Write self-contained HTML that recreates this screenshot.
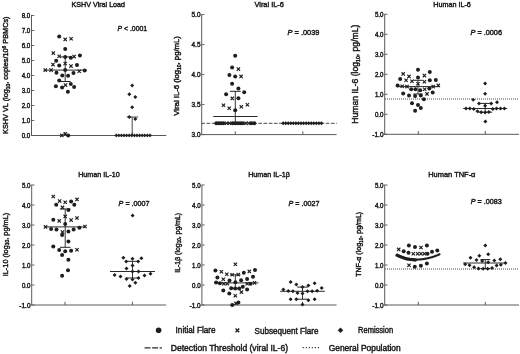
<!DOCTYPE html>
<html><head><meta charset="utf-8"><title>Figure</title>
<style>
html,body{margin:0;padding:0;background:#fff;}
body{width:520px;height:354px;overflow:hidden;}
svg{display:block;}
#w{will-change:transform;width:520px;height:354px;}
text{font-family:"Liberation Sans", sans-serif;fill:#1a1a1a;stroke:#1a1a1a;stroke-width:0.45px;}
</style></head>
<body>
<div id="w"><svg width="520" height="354" viewBox="0 0 520 354">
<rect width="520" height="354" fill="#fff"/>
<line x1="31.50" y1="14.90" x2="31.50" y2="135.95" stroke="#5a5a5a" stroke-width="1.0" />
<line x1="31.00" y1="135.50" x2="166.30" y2="135.50" stroke="#5a5a5a" stroke-width="1.0" />
<line x1="31.50" y1="135.50" x2="34.30" y2="135.50" stroke="#5a5a5a" stroke-width="0.9" />
<text x="30.3" y="138.05" font-size="7.1" text-anchor="end" textLength="8.6" lengthAdjust="spacingAndGlyphs" >0.0</text>
<line x1="31.50" y1="120.50" x2="34.30" y2="120.50" stroke="#5a5a5a" stroke-width="0.9" />
<text x="30.3" y="123.05" font-size="7.1" text-anchor="end" textLength="8.6" lengthAdjust="spacingAndGlyphs" >1.0</text>
<line x1="31.50" y1="105.50" x2="34.30" y2="105.50" stroke="#5a5a5a" stroke-width="0.9" />
<text x="30.3" y="108.05" font-size="7.1" text-anchor="end" textLength="8.6" lengthAdjust="spacingAndGlyphs" >2.0</text>
<line x1="31.50" y1="90.50" x2="34.30" y2="90.50" stroke="#5a5a5a" stroke-width="0.9" />
<text x="30.3" y="93.05" font-size="7.1" text-anchor="end" textLength="8.6" lengthAdjust="spacingAndGlyphs" >3.0</text>
<line x1="31.50" y1="75.50" x2="34.30" y2="75.50" stroke="#5a5a5a" stroke-width="0.9" />
<text x="30.3" y="78.05" font-size="7.1" text-anchor="end" textLength="8.6" lengthAdjust="spacingAndGlyphs" >4.0</text>
<line x1="31.50" y1="60.50" x2="34.30" y2="60.50" stroke="#5a5a5a" stroke-width="0.9" />
<text x="30.3" y="63.05" font-size="7.1" text-anchor="end" textLength="8.6" lengthAdjust="spacingAndGlyphs" >5.0</text>
<line x1="31.50" y1="45.50" x2="34.30" y2="45.50" stroke="#5a5a5a" stroke-width="0.9" />
<text x="30.3" y="48.05" font-size="7.1" text-anchor="end" textLength="8.6" lengthAdjust="spacingAndGlyphs" >6.0</text>
<line x1="31.50" y1="30.50" x2="34.30" y2="30.50" stroke="#5a5a5a" stroke-width="0.9" />
<text x="30.3" y="33.05" font-size="7.1" text-anchor="end" textLength="8.6" lengthAdjust="spacingAndGlyphs" >7.0</text>
<line x1="31.50" y1="15.50" x2="34.30" y2="15.50" stroke="#5a5a5a" stroke-width="0.9" />
<text x="30.3" y="18.05" font-size="7.1" text-anchor="end" textLength="8.6" lengthAdjust="spacingAndGlyphs" >8.0</text>
<line x1="65.00" y1="132.30" x2="65.00" y2="135.50" stroke="#5a5a5a" stroke-width="1.0" />
<line x1="132.30" y1="132.30" x2="132.30" y2="135.50" stroke="#5a5a5a" stroke-width="1.0" />
<text x="98.3" y="7.4" font-size="7.6" text-anchor="middle" textLength="53.5" lengthAdjust="spacingAndGlyphs" >KSHV Viral Load</text>
<text x="117.6" y="30.8" font-size="7.8" text-anchor="start" textLength="29.5" lengthAdjust="spacingAndGlyphs" ><tspan font-style="italic">P</tspan> &lt; .0001</text>
<text transform="translate(8.1,75.2) rotate(-90)" x="0" y="0" font-size="7.8" text-anchor="middle" textLength="117.5" lengthAdjust="spacingAndGlyphs">KSHV VL (log<tspan font-size="5.2" dy="1.6">10</tspan><tspan dy="-1.6">,</tspan> copies/10<tspan font-size="5.2" dy="-2.6">6</tspan><tspan dy="2.6"> PBMCs)</tspan></text>
<line x1="65.20" y1="56.90" x2="65.20" y2="81.50" stroke="#2a2a2a" stroke-width="0.95" />
<line x1="59.90" y1="56.90" x2="70.50" y2="56.90" stroke="#222" stroke-width="1.0" />
<line x1="59.90" y1="81.50" x2="70.50" y2="81.50" stroke="#222" stroke-width="1.0" />
<line x1="43.70" y1="70.10" x2="86.70" y2="70.10" stroke="#2a2a2a" stroke-width="1.0" />
<circle cx="59.2" cy="36.5" r="2.0" fill="#1e1e1e"/>
<circle cx="65.2" cy="48.9" r="2.0" fill="#1e1e1e"/>
<circle cx="65.2" cy="56.9" r="2.0" fill="#1e1e1e"/>
<circle cx="70.8" cy="57.7" r="2.0" fill="#1e1e1e"/>
<circle cx="79.9" cy="55.5" r="2.0" fill="#1e1e1e"/>
<circle cx="56.2" cy="60.8" r="2.0" fill="#1e1e1e"/>
<circle cx="59.2" cy="65.6" r="2.0" fill="#1e1e1e"/>
<circle cx="77.0" cy="65.1" r="2.0" fill="#1e1e1e"/>
<circle cx="65.2" cy="69.9" r="2.0" fill="#1e1e1e"/>
<circle cx="84.7" cy="70.4" r="2.0" fill="#1e1e1e"/>
<circle cx="56.5" cy="72.8" r="2.0" fill="#1e1e1e"/>
<circle cx="73.5" cy="73.1" r="2.0" fill="#1e1e1e"/>
<circle cx="62.3" cy="75.4" r="2.0" fill="#1e1e1e"/>
<circle cx="68.1" cy="75.7" r="2.0" fill="#1e1e1e"/>
<circle cx="59.2" cy="80.6" r="2.0" fill="#1e1e1e"/>
<circle cx="55.9" cy="86.3" r="2.0" fill="#1e1e1e"/>
<circle cx="62.1" cy="87.5" r="2.0" fill="#1e1e1e"/>
<circle cx="70.8" cy="84.1" r="2.0" fill="#1e1e1e"/>
<circle cx="74.1" cy="87.0" r="2.0" fill="#1e1e1e"/>
<circle cx="67.9" cy="91.8" r="2.0" fill="#1e1e1e"/>
<circle cx="68.2" cy="135.4" r="2.0" fill="#1e1e1e"/>
<path d="M63.55 37.75L66.85 41.05M63.55 41.05L66.85 37.75" stroke="#1e1e1e" stroke-width="1.15" fill="none"/>
<path d="M69.45 37.05L72.75 40.35M69.45 40.35L72.75 37.05" stroke="#1e1e1e" stroke-width="1.15" fill="none"/>
<path d="M51.65 51.45L54.95 54.75M51.65 54.75L54.95 51.45" stroke="#1e1e1e" stroke-width="1.15" fill="none"/>
<path d="M57.55 54.55L60.85 57.85M57.55 57.85L60.85 54.55" stroke="#1e1e1e" stroke-width="1.15" fill="none"/>
<path d="M72.45 54.95L75.75 58.25M72.45 58.25L75.75 54.95" stroke="#1e1e1e" stroke-width="1.15" fill="none"/>
<path d="M51.35 62.95L54.65 66.25M51.35 66.25L54.65 62.95" stroke="#1e1e1e" stroke-width="1.15" fill="none"/>
<path d="M63.55 61.85L66.85 65.15M63.55 65.15L66.85 61.85" stroke="#1e1e1e" stroke-width="1.15" fill="none"/>
<path d="M69.35 64.45L72.65 67.75M69.35 67.75L72.65 64.45" stroke="#1e1e1e" stroke-width="1.15" fill="none"/>
<path d="M43.65 68.45L46.95 71.75M43.65 71.75L46.95 68.45" stroke="#1e1e1e" stroke-width="1.15" fill="none"/>
<path d="M49.45 68.45L52.75 71.75M49.45 71.75L52.75 68.45" stroke="#1e1e1e" stroke-width="1.15" fill="none"/>
<path d="M77.55 69.65L80.85 72.95M77.55 72.95L80.85 69.65" stroke="#1e1e1e" stroke-width="1.15" fill="none"/>
<path d="M63.85 83.45L67.15 86.75M63.85 86.75L67.15 83.45" stroke="#1e1e1e" stroke-width="1.15" fill="none"/>
<path d="M60.15 133.75L63.45 137.05M60.15 137.05L63.45 133.75" stroke="#1e1e1e" stroke-width="1.15" fill="none"/>
<path d="M63.65 132.25L66.95 135.55M63.65 135.55L66.95 132.25" stroke="#1e1e1e" stroke-width="1.15" fill="none"/>
<line x1="132.20" y1="117.00" x2="132.20" y2="135.50" stroke="#333" stroke-width="0.9" />
<line x1="126.80" y1="117.00" x2="138.20" y2="117.00" stroke="#333" stroke-width="0.9" />
<path d="M132.20 83.50L134.20 85.50L132.20 87.50L130.20 85.50Z" fill="#1e1e1e"/>
<path d="M129.30 92.20L131.30 94.20L129.30 96.20L127.30 94.20Z" fill="#1e1e1e"/>
<path d="M135.30 95.00L137.30 97.00L135.30 99.00L133.30 97.00Z" fill="#1e1e1e"/>
<path d="M132.20 105.20L134.20 107.20L132.20 109.20L130.20 107.20Z" fill="#1e1e1e"/>
<path d="M129.30 115.00L131.30 117.00L129.30 119.00L127.30 117.00Z" fill="#1e1e1e"/>
<path d="M135.30 117.00L137.30 119.00L135.30 121.00L133.30 119.00Z" fill="#1e1e1e"/>
<path d="M116.20 133.50L118.10 135.40L116.20 137.30L114.30 135.40Z" fill="#1e1e1e"/>
<path d="M118.80 133.50L120.70 135.40L118.80 137.30L116.90 135.40Z" fill="#1e1e1e"/>
<path d="M121.40 133.50L123.30 135.40L121.40 137.30L119.50 135.40Z" fill="#1e1e1e"/>
<path d="M124.00 133.50L125.90 135.40L124.00 137.30L122.10 135.40Z" fill="#1e1e1e"/>
<path d="M126.60 133.50L128.50 135.40L126.60 137.30L124.70 135.40Z" fill="#1e1e1e"/>
<path d="M129.20 133.50L131.10 135.40L129.20 137.30L127.30 135.40Z" fill="#1e1e1e"/>
<path d="M131.80 133.50L133.70 135.40L131.80 137.30L129.90 135.40Z" fill="#1e1e1e"/>
<path d="M134.40 133.50L136.30 135.40L134.40 137.30L132.50 135.40Z" fill="#1e1e1e"/>
<path d="M137.00 133.50L138.90 135.40L137.00 137.30L135.10 135.40Z" fill="#1e1e1e"/>
<path d="M139.60 133.50L141.50 135.40L139.60 137.30L137.70 135.40Z" fill="#1e1e1e"/>
<path d="M142.20 133.50L144.10 135.40L142.20 137.30L140.30 135.40Z" fill="#1e1e1e"/>
<path d="M144.80 133.50L146.70 135.40L144.80 137.30L142.90 135.40Z" fill="#1e1e1e"/>
<path d="M147.40 133.50L149.30 135.40L147.40 137.30L145.50 135.40Z" fill="#1e1e1e"/>
<path d="M150.00 133.50L151.90 135.40L150.00 137.30L148.10 135.40Z" fill="#1e1e1e"/>
<line x1="201.70" y1="14.20" x2="201.70" y2="135.05" stroke="#5a5a5a" stroke-width="1.0" />
<line x1="201.20" y1="134.60" x2="336.60" y2="134.60" stroke="#5a5a5a" stroke-width="1.0" />
<line x1="201.70" y1="134.60" x2="204.50" y2="134.60" stroke="#5a5a5a" stroke-width="0.9" />
<text x="200.5" y="137.15" font-size="7.1" text-anchor="end" textLength="9.0" lengthAdjust="spacingAndGlyphs" >3.0</text>
<line x1="201.70" y1="104.60" x2="204.50" y2="104.60" stroke="#5a5a5a" stroke-width="0.9" />
<text x="200.5" y="107.14999999999999" font-size="7.1" text-anchor="end" textLength="9.0" lengthAdjust="spacingAndGlyphs" >3.5</text>
<line x1="201.70" y1="74.60" x2="204.50" y2="74.60" stroke="#5a5a5a" stroke-width="0.9" />
<text x="200.5" y="77.14999999999999" font-size="7.1" text-anchor="end" textLength="9.0" lengthAdjust="spacingAndGlyphs" >4.0</text>
<line x1="201.70" y1="44.60" x2="204.50" y2="44.60" stroke="#5a5a5a" stroke-width="0.9" />
<text x="200.5" y="47.14999999999999" font-size="7.1" text-anchor="end" textLength="9.0" lengthAdjust="spacingAndGlyphs" >4.5</text>
<line x1="201.70" y1="14.60" x2="204.50" y2="14.60" stroke="#5a5a5a" stroke-width="0.9" />
<text x="200.5" y="17.149999999999995" font-size="7.1" text-anchor="end" textLength="9.0" lengthAdjust="spacingAndGlyphs" >5.0</text>
<line x1="235.30" y1="131.40" x2="235.30" y2="134.60" stroke="#5a5a5a" stroke-width="1.0" />
<line x1="302.80" y1="131.40" x2="302.80" y2="134.60" stroke="#5a5a5a" stroke-width="1.0" />
<text x="269.2" y="6.9" font-size="7.6" text-anchor="middle" textLength="29.5" lengthAdjust="spacingAndGlyphs" >Viral IL-6</text>
<text x="287.6" y="35.2" font-size="7.8" text-anchor="start" textLength="31.8" lengthAdjust="spacingAndGlyphs" ><tspan font-style="italic">P</tspan> = .0039</text>
<text transform="translate(179.3,75.9) rotate(-90)" x="0" y="0" font-size="8.0" text-anchor="middle" textLength="79.5" lengthAdjust="spacingAndGlyphs">Viral IL-6 (log<tspan font-size="5.2" dy="1.6">10</tspan><tspan dy="-1.6">,</tspan> pg/mL)</text>
<line x1="201.30" y1="123.30" x2="336.80" y2="123.30" stroke="#4a4a4a" stroke-width="1.0" stroke-dasharray="3.7 1.486"/>
<line x1="213.20" y1="116.50" x2="257.60" y2="116.50" stroke="#2a2a2a" stroke-width="1.0" />
<line x1="235.30" y1="91.30" x2="235.30" y2="123.30" stroke="#2a2a2a" stroke-width="0.95" />
<line x1="229.90" y1="91.30" x2="240.70" y2="91.30" stroke="#222" stroke-width="1.0" />
<line x1="229.90" y1="123.30" x2="240.70" y2="123.30" stroke="#222" stroke-width="1.0" />
<circle cx="235.2" cy="55.7" r="2.0" fill="#1e1e1e"/>
<circle cx="232.1" cy="67.5" r="2.0" fill="#1e1e1e"/>
<circle cx="229.4" cy="75.0" r="2.0" fill="#1e1e1e"/>
<circle cx="235.2" cy="76.4" r="2.0" fill="#1e1e1e"/>
<circle cx="232.1" cy="83.8" r="2.0" fill="#1e1e1e"/>
<circle cx="238.4" cy="88.6" r="2.0" fill="#1e1e1e"/>
<circle cx="226.1" cy="94.3" r="2.0" fill="#1e1e1e"/>
<circle cx="244.2" cy="92.3" r="2.0" fill="#1e1e1e"/>
<circle cx="238.4" cy="98.3" r="2.0" fill="#1e1e1e"/>
<circle cx="235.2" cy="110.2" r="2.0" fill="#1e1e1e"/>
<path d="M236.75 67.45L240.05 70.75M236.75 70.75L240.05 67.45" stroke="#1e1e1e" stroke-width="1.15" fill="none"/>
<path d="M239.45 74.75L242.75 78.05M239.45 78.05L242.75 74.75" stroke="#1e1e1e" stroke-width="1.15" fill="none"/>
<path d="M230.65 96.75L233.95 100.05M230.65 100.05L233.95 96.75" stroke="#1e1e1e" stroke-width="1.15" fill="none"/>
<path d="M221.85 103.65L225.15 106.95M221.85 106.95L225.15 103.65" stroke="#1e1e1e" stroke-width="1.15" fill="none"/>
<path d="M227.55 106.55L230.85 109.85M227.55 109.85L230.85 106.55" stroke="#1e1e1e" stroke-width="1.15" fill="none"/>
<path d="M239.65 105.05L242.95 108.35M239.65 108.35L242.95 105.05" stroke="#1e1e1e" stroke-width="1.15" fill="none"/>
<path d="M245.75 103.15L249.05 106.45M245.75 106.45L249.05 103.15" stroke="#1e1e1e" stroke-width="1.15" fill="none"/>
<circle cx="216.3" cy="123.3" r="2.0" fill="#1e1e1e"/>
<circle cx="218.7" cy="123.3" r="2.0" fill="#1e1e1e"/>
<circle cx="221.0" cy="123.3" r="2.0" fill="#1e1e1e"/>
<circle cx="223.4" cy="123.3" r="2.0" fill="#1e1e1e"/>
<circle cx="232.7" cy="123.3" r="2.0" fill="#1e1e1e"/>
<circle cx="235.2" cy="123.3" r="2.0" fill="#1e1e1e"/>
<circle cx="237.7" cy="123.3" r="2.0" fill="#1e1e1e"/>
<circle cx="240.2" cy="123.3" r="2.0" fill="#1e1e1e"/>
<circle cx="242.6" cy="123.3" r="2.0" fill="#1e1e1e"/>
<circle cx="251.4" cy="123.3" r="2.0" fill="#1e1e1e"/>
<circle cx="254.3" cy="123.3" r="2.0" fill="#1e1e1e"/>
<path d="M224.95 121.65L228.25 124.95M224.95 124.95L228.25 121.65" stroke="#1e1e1e" stroke-width="1.15" fill="none"/>
<path d="M227.65 121.65L230.95 124.95M227.65 124.95L230.95 121.65" stroke="#1e1e1e" stroke-width="1.15" fill="none"/>
<path d="M244.35 121.65L247.65 124.95M244.35 124.95L247.65 121.65" stroke="#1e1e1e" stroke-width="1.15" fill="none"/>
<path d="M246.95 121.65L250.25 124.95M246.95 124.95L250.25 121.65" stroke="#1e1e1e" stroke-width="1.15" fill="none"/>
<path d="M283.20 121.35L285.15 123.30L283.20 125.25L281.25 123.30Z" fill="#1e1e1e"/>
<path d="M285.75 121.35L287.70 123.30L285.75 125.25L283.80 123.30Z" fill="#1e1e1e"/>
<path d="M288.30 121.35L290.25 123.30L288.30 125.25L286.35 123.30Z" fill="#1e1e1e"/>
<path d="M290.85 121.35L292.80 123.30L290.85 125.25L288.90 123.30Z" fill="#1e1e1e"/>
<path d="M293.40 121.35L295.35 123.30L293.40 125.25L291.45 123.30Z" fill="#1e1e1e"/>
<path d="M295.95 121.35L297.90 123.30L295.95 125.25L294.00 123.30Z" fill="#1e1e1e"/>
<path d="M298.50 121.35L300.45 123.30L298.50 125.25L296.55 123.30Z" fill="#1e1e1e"/>
<path d="M301.05 121.35L303.00 123.30L301.05 125.25L299.10 123.30Z" fill="#1e1e1e"/>
<path d="M303.60 121.35L305.55 123.30L303.60 125.25L301.65 123.30Z" fill="#1e1e1e"/>
<path d="M306.15 121.35L308.10 123.30L306.15 125.25L304.20 123.30Z" fill="#1e1e1e"/>
<path d="M308.70 121.35L310.65 123.30L308.70 125.25L306.75 123.30Z" fill="#1e1e1e"/>
<path d="M311.25 121.35L313.20 123.30L311.25 125.25L309.30 123.30Z" fill="#1e1e1e"/>
<path d="M313.80 121.35L315.75 123.30L313.80 125.25L311.85 123.30Z" fill="#1e1e1e"/>
<path d="M316.35 121.35L318.30 123.30L316.35 125.25L314.40 123.30Z" fill="#1e1e1e"/>
<path d="M318.90 121.35L320.85 123.30L318.90 125.25L316.95 123.30Z" fill="#1e1e1e"/>
<path d="M321.45 121.35L323.40 123.30L321.45 125.25L319.50 123.30Z" fill="#1e1e1e"/>
<line x1="384.70" y1="13.90" x2="384.70" y2="134.75" stroke="#5a5a5a" stroke-width="1.0" />
<line x1="384.20" y1="134.30" x2="519.00" y2="134.30" stroke="#5a5a5a" stroke-width="1.0" />
<line x1="384.70" y1="134.30" x2="387.50" y2="134.30" stroke="#5a5a5a" stroke-width="0.9" />
<text x="383.5" y="136.85000000000002" font-size="7.1" text-anchor="end" textLength="11.2" lengthAdjust="spacingAndGlyphs" >-1.0</text>
<line x1="384.70" y1="114.30" x2="387.50" y2="114.30" stroke="#5a5a5a" stroke-width="0.9" />
<text x="383.5" y="116.85000000000001" font-size="7.1" text-anchor="end" textLength="8.6" lengthAdjust="spacingAndGlyphs" >0.0</text>
<line x1="384.70" y1="94.30" x2="387.50" y2="94.30" stroke="#5a5a5a" stroke-width="0.9" />
<text x="383.5" y="96.85000000000001" font-size="7.1" text-anchor="end" textLength="8.6" lengthAdjust="spacingAndGlyphs" >1.0</text>
<line x1="384.70" y1="74.30" x2="387.50" y2="74.30" stroke="#5a5a5a" stroke-width="0.9" />
<text x="383.5" y="76.85000000000001" font-size="7.1" text-anchor="end" textLength="8.6" lengthAdjust="spacingAndGlyphs" >2.0</text>
<line x1="384.70" y1="54.30" x2="387.50" y2="54.30" stroke="#5a5a5a" stroke-width="0.9" />
<text x="383.5" y="56.85000000000001" font-size="7.1" text-anchor="end" textLength="8.6" lengthAdjust="spacingAndGlyphs" >3.0</text>
<line x1="384.70" y1="34.30" x2="387.50" y2="34.30" stroke="#5a5a5a" stroke-width="0.9" />
<text x="383.5" y="36.85000000000001" font-size="7.1" text-anchor="end" textLength="8.6" lengthAdjust="spacingAndGlyphs" >4.0</text>
<line x1="384.70" y1="14.30" x2="387.50" y2="14.30" stroke="#5a5a5a" stroke-width="0.9" />
<text x="383.5" y="16.850000000000012" font-size="7.1" text-anchor="end" textLength="8.6" lengthAdjust="spacingAndGlyphs" >5.0</text>
<line x1="418.30" y1="131.10" x2="418.30" y2="134.30" stroke="#5a5a5a" stroke-width="1.0" />
<line x1="485.30" y1="131.10" x2="485.30" y2="134.30" stroke="#5a5a5a" stroke-width="1.0" />
<text x="452.0" y="6.9" font-size="7.6" text-anchor="middle" textLength="37.6" lengthAdjust="spacingAndGlyphs" >Human IL-6</text>
<text x="470.5" y="35.2" font-size="7.8" text-anchor="start" textLength="31.5" lengthAdjust="spacingAndGlyphs" ><tspan font-style="italic">P</tspan> = .0006</text>
<text transform="translate(358.0,74.2) rotate(-90)" x="0" y="0" font-size="8.7" text-anchor="middle" textLength="99.2" lengthAdjust="spacingAndGlyphs">Human IL-6 (log<tspan font-size="5.2" dy="1.6">10</tspan><tspan dy="-1.6">,</tspan> pg/mL)</text>
<line x1="385.00" y1="99.00" x2="519.00" y2="99.00" stroke="#484848" stroke-width="1.2" stroke-dasharray="1 1"/>
<line x1="396.80" y1="86.60" x2="439.20" y2="86.60" stroke="#2a2a2a" stroke-width="1.0" />
<line x1="418.00" y1="80.30" x2="418.00" y2="94.00" stroke="#2a2a2a" stroke-width="0.95" />
<line x1="413.30" y1="80.30" x2="422.70" y2="80.30" stroke="#222" stroke-width="1.0" />
<line x1="413.30" y1="94.00" x2="422.70" y2="94.00" stroke="#222" stroke-width="1.0" />
<circle cx="418.0" cy="69.7" r="2.0" fill="#1e1e1e"/>
<circle cx="429.8" cy="71.9" r="2.0" fill="#1e1e1e"/>
<circle cx="418.0" cy="77.5" r="2.0" fill="#1e1e1e"/>
<circle cx="400.2" cy="79.0" r="2.0" fill="#1e1e1e"/>
<circle cx="429.8" cy="80.3" r="2.0" fill="#1e1e1e"/>
<circle cx="435.8" cy="80.0" r="2.0" fill="#1e1e1e"/>
<circle cx="397.6" cy="85.4" r="2.0" fill="#1e1e1e"/>
<circle cx="411.2" cy="89.2" r="2.0" fill="#1e1e1e"/>
<circle cx="415.4" cy="89.2" r="2.0" fill="#1e1e1e"/>
<circle cx="420.2" cy="90.2" r="2.0" fill="#1e1e1e"/>
<circle cx="429.3" cy="88.5" r="2.0" fill="#1e1e1e"/>
<circle cx="403.2" cy="93.4" r="2.0" fill="#1e1e1e"/>
<circle cx="409.0" cy="95.6" r="2.0" fill="#1e1e1e"/>
<circle cx="415.1" cy="96.1" r="2.0" fill="#1e1e1e"/>
<circle cx="420.8" cy="95.6" r="2.0" fill="#1e1e1e"/>
<circle cx="432.7" cy="92.5" r="2.0" fill="#1e1e1e"/>
<circle cx="423.9" cy="99.3" r="2.0" fill="#1e1e1e"/>
<circle cx="412.0" cy="103.2" r="2.0" fill="#1e1e1e"/>
<circle cx="418.0" cy="104.9" r="2.0" fill="#1e1e1e"/>
<circle cx="420.8" cy="108.0" r="2.0" fill="#1e1e1e"/>
<circle cx="415.1" cy="110.8" r="2.0" fill="#1e1e1e"/>
<path d="M401.55 72.25L404.85 75.55M401.55 75.55L404.85 72.25" stroke="#1e1e1e" stroke-width="1.15" fill="none"/>
<path d="M407.35 74.75L410.65 78.05M407.35 78.05L410.65 74.75" stroke="#1e1e1e" stroke-width="1.15" fill="none"/>
<path d="M422.75 73.95L426.05 77.25M422.75 77.25L426.05 73.95" stroke="#1e1e1e" stroke-width="1.15" fill="none"/>
<path d="M404.45 78.65L407.75 81.95M404.45 81.95L407.75 78.65" stroke="#1e1e1e" stroke-width="1.15" fill="none"/>
<path d="M410.35 79.55L413.65 82.85M410.35 82.85L413.65 79.55" stroke="#1e1e1e" stroke-width="1.15" fill="none"/>
<path d="M422.75 80.05L426.05 83.35M422.75 83.35L426.05 80.05" stroke="#1e1e1e" stroke-width="1.15" fill="none"/>
<path d="M416.35 82.05L419.65 85.35M416.35 85.35L419.65 82.05" stroke="#1e1e1e" stroke-width="1.15" fill="none"/>
<path d="M400.55 84.65L403.85 87.95M400.55 87.95L403.85 84.65" stroke="#1e1e1e" stroke-width="1.15" fill="none"/>
<path d="M405.35 84.95L408.65 88.25M405.35 88.25L408.65 84.95" stroke="#1e1e1e" stroke-width="1.15" fill="none"/>
<path d="M431.55 84.95L434.85 88.25M431.55 88.25L434.85 84.95" stroke="#1e1e1e" stroke-width="1.15" fill="none"/>
<path d="M436.65 83.75L439.95 87.05M436.65 87.05L439.95 83.75" stroke="#1e1e1e" stroke-width="1.15" fill="none"/>
<path d="M423.05 87.55L426.35 90.85M423.05 90.85L426.35 87.55" stroke="#1e1e1e" stroke-width="1.15" fill="none"/>
<path d="M425.35 92.25L428.65 95.55M425.35 95.55L428.65 92.25" stroke="#1e1e1e" stroke-width="1.15" fill="none"/>
<line x1="463.20" y1="108.50" x2="507.20" y2="108.50" stroke="#2a2a2a" stroke-width="1.0" />
<line x1="485.20" y1="103.40" x2="485.20" y2="112.20" stroke="#2a2a2a" stroke-width="0.95" />
<line x1="478.30" y1="103.40" x2="492.10" y2="103.40" stroke="#222" stroke-width="1.0" />
<line x1="478.30" y1="112.20" x2="492.10" y2="112.20" stroke="#222" stroke-width="1.0" />
<path d="M485.10 81.50L487.10 83.50L485.10 85.50L483.10 83.50Z" fill="#1e1e1e"/>
<path d="M485.10 91.70L487.10 93.70L485.10 95.70L483.10 93.70Z" fill="#1e1e1e"/>
<path d="M473.20 97.80L475.20 99.80L473.20 101.80L471.20 99.80Z" fill="#1e1e1e"/>
<path d="M497.00 100.20L499.00 102.20L497.00 104.20L495.00 102.20Z" fill="#1e1e1e"/>
<path d="M479.00 101.40L481.00 103.40L479.00 105.40L477.00 103.40Z" fill="#1e1e1e"/>
<path d="M491.20 101.40L493.20 103.40L491.20 105.40L489.20 103.40Z" fill="#1e1e1e"/>
<path d="M485.10 103.70L487.10 105.70L485.10 107.70L483.10 105.70Z" fill="#1e1e1e"/>
<path d="M466.00 106.50L468.00 108.50L466.00 110.50L464.00 108.50Z" fill="#1e1e1e"/>
<path d="M469.80 106.50L471.80 108.50L469.80 110.50L467.80 108.50Z" fill="#1e1e1e"/>
<path d="M473.80 107.00L475.80 109.00L473.80 111.00L471.80 109.00Z" fill="#1e1e1e"/>
<path d="M492.80 107.00L494.80 109.00L492.80 111.00L490.80 109.00Z" fill="#1e1e1e"/>
<path d="M496.50 106.50L498.50 108.50L496.50 110.50L494.50 108.50Z" fill="#1e1e1e"/>
<path d="M500.50 106.50L502.50 108.50L500.50 110.50L498.50 108.50Z" fill="#1e1e1e"/>
<path d="M504.40 106.50L506.40 108.50L504.40 110.50L502.40 108.50Z" fill="#1e1e1e"/>
<path d="M477.50 109.20L479.50 111.20L477.50 113.20L475.50 111.20Z" fill="#1e1e1e"/>
<path d="M481.20 110.30L483.20 112.30L481.20 114.30L479.20 112.30Z" fill="#1e1e1e"/>
<path d="M485.10 110.50L487.10 112.50L485.10 114.50L483.10 112.50Z" fill="#1e1e1e"/>
<path d="M488.80 110.00L490.80 112.00L488.80 114.00L486.80 112.00Z" fill="#1e1e1e"/>
<path d="M485.40 119.50L487.40 121.50L485.40 123.50L483.40 121.50Z" fill="#1e1e1e"/>
<line x1="31.70" y1="184.60" x2="31.70" y2="305.45" stroke="#5a5a5a" stroke-width="1.0" />
<line x1="31.20" y1="305.00" x2="166.10" y2="305.00" stroke="#5a5a5a" stroke-width="1.0" />
<line x1="31.70" y1="305.00" x2="34.50" y2="305.00" stroke="#5a5a5a" stroke-width="0.9" />
<text x="30.5" y="307.55" font-size="7.1" text-anchor="end" textLength="11.2" lengthAdjust="spacingAndGlyphs" >-1.0</text>
<line x1="31.70" y1="285.00" x2="34.50" y2="285.00" stroke="#5a5a5a" stroke-width="0.9" />
<text x="30.5" y="287.55" font-size="7.1" text-anchor="end" textLength="8.6" lengthAdjust="spacingAndGlyphs" >0.0</text>
<line x1="31.70" y1="265.00" x2="34.50" y2="265.00" stroke="#5a5a5a" stroke-width="0.9" />
<text x="30.5" y="267.55" font-size="7.1" text-anchor="end" textLength="8.6" lengthAdjust="spacingAndGlyphs" >1.0</text>
<line x1="31.70" y1="245.00" x2="34.50" y2="245.00" stroke="#5a5a5a" stroke-width="0.9" />
<text x="30.5" y="247.55" font-size="7.1" text-anchor="end" textLength="8.6" lengthAdjust="spacingAndGlyphs" >2.0</text>
<line x1="31.70" y1="225.00" x2="34.50" y2="225.00" stroke="#5a5a5a" stroke-width="0.9" />
<text x="30.5" y="227.55" font-size="7.1" text-anchor="end" textLength="8.6" lengthAdjust="spacingAndGlyphs" >3.0</text>
<line x1="31.70" y1="205.00" x2="34.50" y2="205.00" stroke="#5a5a5a" stroke-width="0.9" />
<text x="30.5" y="207.55" font-size="7.1" text-anchor="end" textLength="8.6" lengthAdjust="spacingAndGlyphs" >4.0</text>
<line x1="31.70" y1="185.00" x2="34.50" y2="185.00" stroke="#5a5a5a" stroke-width="0.9" />
<text x="30.5" y="187.55" font-size="7.1" text-anchor="end" textLength="8.6" lengthAdjust="spacingAndGlyphs" >5.0</text>
<line x1="65.00" y1="301.80" x2="65.00" y2="305.00" stroke="#5a5a5a" stroke-width="1.0" />
<line x1="132.40" y1="301.80" x2="132.40" y2="305.00" stroke="#5a5a5a" stroke-width="1.0" />
<text x="98.9" y="177.1" font-size="7.6" text-anchor="middle" textLength="41.5" lengthAdjust="spacingAndGlyphs" >Human IL-10</text>
<text x="118.6" y="205.7" font-size="7.8" text-anchor="start" textLength="31.0" lengthAdjust="spacingAndGlyphs" ><tspan font-style="italic">P</tspan> = .0007</text>
<text transform="translate(7.6,244.5) rotate(-90)" x="0" y="0" font-size="7.8" text-anchor="middle" textLength="63.6" lengthAdjust="spacingAndGlyphs">IL-10 (log<tspan font-size="5.2" dy="1.6">10</tspan><tspan dy="-1.6">,</tspan> pg/mL)</text>
<line x1="44.30" y1="226.90" x2="85.90" y2="226.90" stroke="#2a2a2a" stroke-width="1.0" />
<line x1="65.20" y1="209.00" x2="65.20" y2="247.30" stroke="#2a2a2a" stroke-width="0.95" />
<line x1="59.90" y1="209.00" x2="70.50" y2="209.00" stroke="#222" stroke-width="1.0" />
<line x1="59.90" y1="247.30" x2="70.50" y2="247.30" stroke="#222" stroke-width="1.0" />
<circle cx="71.1" cy="201.4" r="2.0" fill="#1e1e1e"/>
<circle cx="56.2" cy="204.8" r="2.0" fill="#1e1e1e"/>
<circle cx="74.3" cy="204.8" r="2.0" fill="#1e1e1e"/>
<circle cx="68.4" cy="209.9" r="2.0" fill="#1e1e1e"/>
<circle cx="53.3" cy="219.7" r="2.0" fill="#1e1e1e"/>
<circle cx="65.2" cy="224.0" r="2.0" fill="#1e1e1e"/>
<circle cx="51.1" cy="229.1" r="2.0" fill="#1e1e1e"/>
<circle cx="56.5" cy="229.4" r="2.0" fill="#1e1e1e"/>
<circle cx="73.6" cy="229.4" r="2.0" fill="#1e1e1e"/>
<circle cx="79.4" cy="227.7" r="2.0" fill="#1e1e1e"/>
<circle cx="68.4" cy="231.6" r="2.0" fill="#1e1e1e"/>
<circle cx="62.1" cy="235.0" r="2.0" fill="#1e1e1e"/>
<circle cx="68.4" cy="241.4" r="2.0" fill="#1e1e1e"/>
<circle cx="53.3" cy="246.6" r="2.0" fill="#1e1e1e"/>
<circle cx="59.2" cy="250.0" r="2.0" fill="#1e1e1e"/>
<circle cx="65.2" cy="251.2" r="2.0" fill="#1e1e1e"/>
<circle cx="71.1" cy="250.7" r="2.0" fill="#1e1e1e"/>
<circle cx="62.1" cy="255.1" r="2.0" fill="#1e1e1e"/>
<circle cx="68.4" cy="259.7" r="2.0" fill="#1e1e1e"/>
<circle cx="68.0" cy="270.2" r="2.0" fill="#1e1e1e"/>
<circle cx="62.1" cy="275.8" r="2.0" fill="#1e1e1e"/>
<path d="M51.65 194.85L54.95 198.15M51.65 198.15L54.95 194.85" stroke="#1e1e1e" stroke-width="1.15" fill="none"/>
<path d="M57.95 199.45L61.25 202.75M57.95 202.75L61.25 199.45" stroke="#1e1e1e" stroke-width="1.15" fill="none"/>
<path d="M63.55 200.65L66.85 203.95M63.55 203.95L66.85 200.65" stroke="#1e1e1e" stroke-width="1.15" fill="none"/>
<path d="M75.35 197.75L78.65 201.05M75.35 201.05L78.65 197.75" stroke="#1e1e1e" stroke-width="1.15" fill="none"/>
<path d="M60.85 205.75L64.15 209.05M60.85 209.05L64.15 205.75" stroke="#1e1e1e" stroke-width="1.15" fill="none"/>
<path d="M63.55 214.75L66.85 218.05M63.55 218.05L66.85 214.75" stroke="#1e1e1e" stroke-width="1.15" fill="none"/>
<path d="M57.55 219.25L60.85 222.55M57.55 222.55L60.85 219.25" stroke="#1e1e1e" stroke-width="1.15" fill="none"/>
<path d="M69.45 218.45L72.75 221.75M69.45 221.75L72.75 218.45" stroke="#1e1e1e" stroke-width="1.15" fill="none"/>
<path d="M75.35 216.35L78.65 219.65M75.35 219.65L78.65 216.35" stroke="#1e1e1e" stroke-width="1.15" fill="none"/>
<path d="M43.85 225.25L47.15 228.55M43.85 228.55L47.15 225.25" stroke="#1e1e1e" stroke-width="1.15" fill="none"/>
<path d="M83.35 224.85L86.65 228.15M83.35 228.15L86.65 224.85" stroke="#1e1e1e" stroke-width="1.15" fill="none"/>
<path d="M60.85 230.45L64.15 233.75M60.85 233.75L64.15 230.45" stroke="#1e1e1e" stroke-width="1.15" fill="none"/>
<path d="M75.35 248.15L78.65 251.45M75.35 251.45L78.65 248.15" stroke="#1e1e1e" stroke-width="1.15" fill="none"/>
<line x1="110.00" y1="271.50" x2="155.00" y2="271.50" stroke="#2a2a2a" stroke-width="1.0" />
<line x1="132.50" y1="261.30" x2="132.50" y2="278.00" stroke="#2a2a2a" stroke-width="0.95" />
<line x1="126.30" y1="261.30" x2="138.70" y2="261.30" stroke="#222" stroke-width="1.0" />
<line x1="126.30" y1="278.00" x2="138.70" y2="278.00" stroke="#222" stroke-width="1.0" />
<path d="M132.60 213.60L134.60 215.60L132.60 217.60L130.60 215.60Z" fill="#1e1e1e"/>
<path d="M123.40 255.80L125.40 257.80L123.40 259.80L121.40 257.80Z" fill="#1e1e1e"/>
<path d="M132.50 256.80L134.50 258.80L132.50 260.80L130.50 258.80Z" fill="#1e1e1e"/>
<path d="M141.40 256.20L143.40 258.20L141.40 260.20L139.40 258.20Z" fill="#1e1e1e"/>
<path d="M126.20 259.60L128.20 261.60L126.20 263.60L124.20 261.60Z" fill="#1e1e1e"/>
<path d="M138.20 259.60L140.20 261.60L138.20 263.60L136.20 261.60Z" fill="#1e1e1e"/>
<path d="M132.50 263.50L134.50 265.50L132.50 267.50L130.50 265.50Z" fill="#1e1e1e"/>
<path d="M126.50 266.60L128.50 268.60L126.50 270.60L124.50 268.60Z" fill="#1e1e1e"/>
<path d="M132.50 269.50L134.50 271.50L132.50 273.50L130.50 271.50Z" fill="#1e1e1e"/>
<path d="M138.50 269.50L140.50 271.50L138.50 273.50L136.50 271.50Z" fill="#1e1e1e"/>
<path d="M114.60 273.10L116.60 275.10L114.60 277.10L112.60 275.10Z" fill="#1e1e1e"/>
<path d="M120.50 274.60L122.50 276.60L120.50 278.60L118.50 276.60Z" fill="#1e1e1e"/>
<path d="M144.50 273.40L146.50 275.40L144.50 277.40L142.50 275.40Z" fill="#1e1e1e"/>
<path d="M150.50 271.70L152.50 273.70L150.50 275.70L148.50 273.70Z" fill="#1e1e1e"/>
<path d="M126.50 277.00L128.50 279.00L126.50 281.00L124.50 279.00Z" fill="#1e1e1e"/>
<path d="M132.50 277.40L134.50 279.40L132.50 281.40L130.50 279.40Z" fill="#1e1e1e"/>
<path d="M138.50 276.00L140.50 278.00L138.50 280.00L136.50 278.00Z" fill="#1e1e1e"/>
<path d="M135.40 280.80L137.40 282.80L135.40 284.80L133.40 282.80Z" fill="#1e1e1e"/>
<path d="M129.70 284.00L131.70 286.00L129.70 288.00L127.70 286.00Z" fill="#1e1e1e"/>
<line x1="201.90" y1="184.60" x2="201.90" y2="305.45" stroke="#5a5a5a" stroke-width="1.0" />
<line x1="201.40" y1="305.00" x2="336.60" y2="305.00" stroke="#5a5a5a" stroke-width="1.0" />
<line x1="201.90" y1="305.00" x2="204.70" y2="305.00" stroke="#5a5a5a" stroke-width="0.9" />
<text x="200.70000000000002" y="307.55" font-size="7.1" text-anchor="end" textLength="11.2" lengthAdjust="spacingAndGlyphs" >-1.0</text>
<line x1="201.90" y1="285.00" x2="204.70" y2="285.00" stroke="#5a5a5a" stroke-width="0.9" />
<text x="200.70000000000002" y="287.55" font-size="7.1" text-anchor="end" textLength="8.6" lengthAdjust="spacingAndGlyphs" >0.0</text>
<line x1="201.90" y1="265.00" x2="204.70" y2="265.00" stroke="#5a5a5a" stroke-width="0.9" />
<text x="200.70000000000002" y="267.55" font-size="7.1" text-anchor="end" textLength="8.6" lengthAdjust="spacingAndGlyphs" >1.0</text>
<line x1="201.90" y1="245.00" x2="204.70" y2="245.00" stroke="#5a5a5a" stroke-width="0.9" />
<text x="200.70000000000002" y="247.55" font-size="7.1" text-anchor="end" textLength="8.6" lengthAdjust="spacingAndGlyphs" >2.0</text>
<line x1="201.90" y1="225.00" x2="204.70" y2="225.00" stroke="#5a5a5a" stroke-width="0.9" />
<text x="200.70000000000002" y="227.55" font-size="7.1" text-anchor="end" textLength="8.6" lengthAdjust="spacingAndGlyphs" >3.0</text>
<line x1="201.90" y1="205.00" x2="204.70" y2="205.00" stroke="#5a5a5a" stroke-width="0.9" />
<text x="200.70000000000002" y="207.55" font-size="7.1" text-anchor="end" textLength="8.6" lengthAdjust="spacingAndGlyphs" >4.0</text>
<line x1="201.90" y1="185.00" x2="204.70" y2="185.00" stroke="#5a5a5a" stroke-width="0.9" />
<text x="200.70000000000002" y="187.55" font-size="7.1" text-anchor="end" textLength="8.6" lengthAdjust="spacingAndGlyphs" >5.0</text>
<line x1="235.30" y1="301.80" x2="235.30" y2="305.00" stroke="#5a5a5a" stroke-width="1.0" />
<line x1="302.50" y1="301.80" x2="302.50" y2="305.00" stroke="#5a5a5a" stroke-width="1.0" />
<text x="269.0" y="177.1" font-size="7.6" text-anchor="middle" textLength="41.7" lengthAdjust="spacingAndGlyphs" >Human IL-1&#946;</text>
<text x="288.4" y="205.7" font-size="7.8" text-anchor="start" textLength="31.0" lengthAdjust="spacingAndGlyphs" ><tspan font-style="italic">P</tspan> = .0027</text>
<text transform="translate(179.5,242.8) rotate(-90)" x="0" y="0" font-size="7.8" text-anchor="middle" textLength="59.8" lengthAdjust="spacingAndGlyphs">IL-1&#946; (log<tspan font-size="5.2" dy="1.6">10</tspan><tspan dy="-1.6">,</tspan> pg/mL)</text>
<line x1="214.00" y1="282.90" x2="258.40" y2="282.90" stroke="#2a2a2a" stroke-width="1.0" />
<line x1="235.30" y1="274.80" x2="235.30" y2="288.30" stroke="#2a2a2a" stroke-width="0.95" />
<line x1="230.10" y1="274.80" x2="240.50" y2="274.80" stroke="#222" stroke-width="1.0" />
<line x1="230.10" y1="288.30" x2="240.50" y2="288.30" stroke="#222" stroke-width="1.0" />
<circle cx="215.4" cy="270.4" r="2.0" fill="#1e1e1e"/>
<circle cx="243.8" cy="272.8" r="2.0" fill="#1e1e1e"/>
<circle cx="255.0" cy="269.9" r="2.0" fill="#1e1e1e"/>
<circle cx="217.4" cy="277.6" r="2.0" fill="#1e1e1e"/>
<circle cx="229.5" cy="280.6" r="2.0" fill="#1e1e1e"/>
<circle cx="241.1" cy="280.3" r="2.0" fill="#1e1e1e"/>
<circle cx="247.1" cy="279.1" r="2.0" fill="#1e1e1e"/>
<circle cx="253.0" cy="276.8" r="2.0" fill="#1e1e1e"/>
<circle cx="216.1" cy="282.5" r="2.0" fill="#1e1e1e"/>
<circle cx="219.9" cy="283.2" r="2.0" fill="#1e1e1e"/>
<circle cx="235.4" cy="282.2" r="2.0" fill="#1e1e1e"/>
<circle cx="250.5" cy="283.7" r="2.0" fill="#1e1e1e"/>
<circle cx="231.2" cy="288.2" r="2.0" fill="#1e1e1e"/>
<circle cx="235.2" cy="288.5" r="2.0" fill="#1e1e1e"/>
<circle cx="239.2" cy="288.5" r="2.0" fill="#1e1e1e"/>
<circle cx="242.8" cy="286.7" r="2.0" fill="#1e1e1e"/>
<circle cx="223.3" cy="290.6" r="2.0" fill="#1e1e1e"/>
<circle cx="247.1" cy="289.6" r="2.0" fill="#1e1e1e"/>
<circle cx="229.3" cy="293.6" r="2.0" fill="#1e1e1e"/>
<circle cx="232.2" cy="305.1" r="2.0" fill="#1e1e1e"/>
<circle cx="238.4" cy="302.4" r="2.0" fill="#1e1e1e"/>
<path d="M233.75 262.55L237.05 265.85M233.75 265.85L237.05 262.55" stroke="#1e1e1e" stroke-width="1.15" fill="none"/>
<path d="M219.75 270.05L223.05 273.35M219.75 273.35L223.05 270.05" stroke="#1e1e1e" stroke-width="1.15" fill="none"/>
<path d="M225.15 272.65L228.45 275.95M225.15 275.95L228.45 272.65" stroke="#1e1e1e" stroke-width="1.15" fill="none"/>
<path d="M230.55 273.15L233.85 276.45M230.55 276.45L233.85 273.15" stroke="#1e1e1e" stroke-width="1.15" fill="none"/>
<path d="M236.55 272.95L239.85 276.25M236.55 276.25L239.85 272.95" stroke="#1e1e1e" stroke-width="1.15" fill="none"/>
<path d="M247.65 269.75L250.95 273.05M247.65 273.05L250.95 269.75" stroke="#1e1e1e" stroke-width="1.15" fill="none"/>
<path d="M221.65 277.65L224.95 280.95M221.65 280.95L224.95 277.65" stroke="#1e1e1e" stroke-width="1.15" fill="none"/>
<path d="M222.15 282.05L225.45 285.35M222.15 285.35L225.45 282.05" stroke="#1e1e1e" stroke-width="1.15" fill="none"/>
<path d="M225.65 282.05L228.95 285.35M225.65 285.35L228.95 282.05" stroke="#1e1e1e" stroke-width="1.15" fill="none"/>
<path d="M245.45 282.05L248.75 285.35M245.45 285.35L248.75 282.05" stroke="#1e1e1e" stroke-width="1.15" fill="none"/>
<path d="M252.85 281.25L256.15 284.55M252.85 284.55L256.15 281.25" stroke="#1e1e1e" stroke-width="1.15" fill="none"/>
<path d="M239.75 290.45L243.05 293.75M239.75 293.75L243.05 290.45" stroke="#1e1e1e" stroke-width="1.15" fill="none"/>
<path d="M233.65 294.05L236.95 297.35M233.65 297.35L236.95 294.05" stroke="#1e1e1e" stroke-width="1.15" fill="none"/>
<path d="M234.35 301.85L237.65 305.15M234.35 305.15L237.65 301.85" stroke="#1e1e1e" stroke-width="1.15" fill="none"/>
<line x1="280.20" y1="291.30" x2="324.80" y2="291.30" stroke="#2a2a2a" stroke-width="1.0" />
<line x1="302.50" y1="287.10" x2="302.50" y2="299.20" stroke="#2a2a2a" stroke-width="0.95" />
<line x1="297.20" y1="287.10" x2="307.80" y2="287.10" stroke="#222" stroke-width="1.0" />
<line x1="297.20" y1="299.20" x2="307.80" y2="299.20" stroke="#222" stroke-width="1.0" />
<path d="M290.60 279.90L292.60 281.90L290.60 283.90L288.60 281.90Z" fill="#1e1e1e"/>
<path d="M296.30 282.40L298.30 284.40L296.30 286.40L294.30 284.40Z" fill="#1e1e1e"/>
<path d="M308.40 283.60L310.40 285.60L308.40 287.60L306.40 285.60Z" fill="#1e1e1e"/>
<path d="M314.60 281.30L316.60 283.30L314.60 285.30L312.60 283.30Z" fill="#1e1e1e"/>
<path d="M302.50 285.10L304.50 287.10L302.50 289.10L300.50 287.10Z" fill="#1e1e1e"/>
<path d="M321.70 285.90L323.70 287.90L321.70 289.90L319.70 287.90Z" fill="#1e1e1e"/>
<path d="M283.30 287.40L285.30 289.40L283.30 291.40L281.30 289.40Z" fill="#1e1e1e"/>
<path d="M288.30 289.10L290.30 291.10L288.30 293.10L286.30 291.10Z" fill="#1e1e1e"/>
<path d="M292.90 289.30L294.90 291.30L292.90 293.30L290.90 291.30Z" fill="#1e1e1e"/>
<path d="M307.50 289.30L309.50 291.30L307.50 293.30L305.50 291.30Z" fill="#1e1e1e"/>
<path d="M312.10 289.30L314.10 291.30L312.10 293.30L310.10 291.30Z" fill="#1e1e1e"/>
<path d="M317.10 288.80L319.10 290.80L317.10 292.80L315.10 290.80Z" fill="#1e1e1e"/>
<path d="M297.50 291.10L299.50 293.10L297.50 295.10L295.50 293.10Z" fill="#1e1e1e"/>
<path d="M302.50 291.60L304.50 293.60L302.50 295.60L300.50 293.60Z" fill="#1e1e1e"/>
<path d="M290.60 297.20L292.60 299.20L290.60 301.20L288.60 299.20Z" fill="#1e1e1e"/>
<path d="M296.30 297.20L298.30 299.20L296.30 301.20L294.30 299.20Z" fill="#1e1e1e"/>
<path d="M308.40 298.20L310.40 300.20L308.40 302.20L306.40 300.20Z" fill="#1e1e1e"/>
<path d="M314.60 297.20L316.60 299.20L314.60 301.20L312.60 299.20Z" fill="#1e1e1e"/>
<path d="M302.50 302.60L304.50 304.60L302.50 306.60L300.50 304.60Z" fill="#1e1e1e"/>
<line x1="384.70" y1="184.60" x2="384.70" y2="305.45" stroke="#5a5a5a" stroke-width="1.0" />
<line x1="384.20" y1="305.00" x2="519.00" y2="305.00" stroke="#5a5a5a" stroke-width="1.0" />
<line x1="384.70" y1="305.00" x2="387.50" y2="305.00" stroke="#5a5a5a" stroke-width="0.9" />
<text x="383.5" y="307.55" font-size="7.1" text-anchor="end" textLength="11.2" lengthAdjust="spacingAndGlyphs" >-1.0</text>
<line x1="384.70" y1="285.00" x2="387.50" y2="285.00" stroke="#5a5a5a" stroke-width="0.9" />
<text x="383.5" y="287.55" font-size="7.1" text-anchor="end" textLength="8.6" lengthAdjust="spacingAndGlyphs" >0.0</text>
<line x1="384.70" y1="265.00" x2="387.50" y2="265.00" stroke="#5a5a5a" stroke-width="0.9" />
<text x="383.5" y="267.55" font-size="7.1" text-anchor="end" textLength="8.6" lengthAdjust="spacingAndGlyphs" >1.0</text>
<line x1="384.70" y1="245.00" x2="387.50" y2="245.00" stroke="#5a5a5a" stroke-width="0.9" />
<text x="383.5" y="247.55" font-size="7.1" text-anchor="end" textLength="8.6" lengthAdjust="spacingAndGlyphs" >2.0</text>
<line x1="384.70" y1="225.00" x2="387.50" y2="225.00" stroke="#5a5a5a" stroke-width="0.9" />
<text x="383.5" y="227.55" font-size="7.1" text-anchor="end" textLength="8.6" lengthAdjust="spacingAndGlyphs" >3.0</text>
<line x1="384.70" y1="205.00" x2="387.50" y2="205.00" stroke="#5a5a5a" stroke-width="0.9" />
<text x="383.5" y="207.55" font-size="7.1" text-anchor="end" textLength="8.6" lengthAdjust="spacingAndGlyphs" >4.0</text>
<line x1="384.70" y1="185.00" x2="387.50" y2="185.00" stroke="#5a5a5a" stroke-width="0.9" />
<text x="383.5" y="187.55" font-size="7.1" text-anchor="end" textLength="8.6" lengthAdjust="spacingAndGlyphs" >5.0</text>
<line x1="418.30" y1="301.80" x2="418.30" y2="305.00" stroke="#5a5a5a" stroke-width="1.0" />
<line x1="485.30" y1="301.80" x2="485.30" y2="305.00" stroke="#5a5a5a" stroke-width="1.0" />
<text x="451.8" y="177.1" font-size="7.6" text-anchor="middle" textLength="47.3" lengthAdjust="spacingAndGlyphs" >Human TNF-&#945;</text>
<text x="470.7" y="204.4" font-size="7.8" text-anchor="start" textLength="31.0" lengthAdjust="spacingAndGlyphs" ><tspan font-style="italic">P</tspan> = .0083</text>
<text transform="translate(361.3,244.3) rotate(-90)" x="0" y="0" font-size="7.8" text-anchor="middle" textLength="65.0" lengthAdjust="spacingAndGlyphs">TNF-&#945; (log<tspan font-size="5.2" dy="1.6">10</tspan><tspan dy="-1.6">,</tspan> pg/mL)</text>
<line x1="385.00" y1="269.00" x2="519.00" y2="269.00" stroke="#484848" stroke-width="1.2" stroke-dasharray="1 1"/>
<polyline points="397.0,254.85 397.5,255.10 398.0,255.34 398.5,255.57 399.0,255.80 399.5,256.02 400.0,256.23 400.5,256.44 401.0,256.64 401.5,256.84 402.0,257.02 402.5,257.20 403.0,257.38 403.5,257.55 404.0,257.71 404.5,257.86 405.0,258.01 405.5,258.15 406.0,258.29 406.5,258.41 407.0,258.53 407.5,258.65 408.0,258.76 408.5,258.86 409.0,258.96 409.5,259.04 410.0,259.13 410.5,259.20 411.0,259.27 411.5,259.33 412.0,259.39 412.5,259.44 413.0,259.48 413.5,259.52 414.0,259.55 414.5,259.57 415.0,259.59 415.5,259.60 416.0,259.60 416.5,259.60 417.0,259.59 417.5,259.58 418.0,259.56 418.5,259.54 419.0,259.51 419.5,259.48 420.0,259.45 420.5,259.41 421.0,259.36 421.5,259.31 422.0,259.25 422.5,259.19 423.0,259.13 423.5,259.06 424.0,258.99 424.5,258.91 425.0,258.82 425.5,258.73 426.0,258.64 426.5,258.54 427.0,258.44 427.5,258.33 428.0,258.22 428.5,258.10 429.0,257.98 429.5,257.85 430.0,257.72 430.5,257.58 431.0,257.44 431.5,257.29 432.0,257.14 432.5,256.99 433.0,256.83 433.5,256.66 434.0,256.49 434.5,256.32 435.0,256.14 435.5,255.95 436.0,255.76 436.5,255.57 437.0,255.37 437.5,255.16 438.0,254.96 438.5,254.74 439.0,254.52 439.5,254.30" fill="none" stroke="#1e1e1e" stroke-width="2.1" stroke-linecap="round"/>
<circle cx="397.2" cy="255.3" r="1.75" fill="#1e1e1e"/>
<circle cx="399.2" cy="256.2" r="1.75" fill="#1e1e1e"/>
<circle cx="401.2" cy="257.0" r="1.75" fill="#1e1e1e"/>
<circle cx="403.2" cy="257.7" r="1.75" fill="#1e1e1e"/>
<circle cx="405.2" cy="258.4" r="1.75" fill="#1e1e1e"/>
<circle cx="407.2" cy="258.9" r="1.75" fill="#1e1e1e"/>
<circle cx="409.2" cy="259.3" r="1.75" fill="#1e1e1e"/>
<circle cx="411.2" cy="259.6" r="1.75" fill="#1e1e1e"/>
<circle cx="413.2" cy="259.8" r="1.75" fill="#1e1e1e"/>
<circle cx="415.2" cy="259.9" r="1.75" fill="#1e1e1e"/>
<circle cx="408.9" cy="245.6" r="2.0" fill="#1e1e1e"/>
<circle cx="415.0" cy="247.0" r="2.0" fill="#1e1e1e"/>
<circle cx="426.9" cy="245.6" r="2.0" fill="#1e1e1e"/>
<circle cx="403.7" cy="251.3" r="2.0" fill="#1e1e1e"/>
<circle cx="408.5" cy="252.8" r="2.0" fill="#1e1e1e"/>
<circle cx="427.5" cy="253.8" r="2.0" fill="#1e1e1e"/>
<circle cx="432.0" cy="251.8" r="2.0" fill="#1e1e1e"/>
<circle cx="437.3" cy="250.4" r="2.0" fill="#1e1e1e"/>
<circle cx="414.8" cy="266.7" r="2.0" fill="#1e1e1e"/>
<circle cx="420.9" cy="265.8" r="2.0" fill="#1e1e1e"/>
<circle cx="426.9" cy="263.5" r="2.0" fill="#1e1e1e"/>
<path d="M419.35 245.85L422.65 249.15M419.35 249.15L422.65 245.85" stroke="#1e1e1e" stroke-width="1.15" fill="none"/>
<path d="M397.05 247.75L400.35 251.05M397.05 251.05L400.35 247.75" stroke="#1e1e1e" stroke-width="1.15" fill="none"/>
<path d="M411.65 252.15L414.95 255.45M411.65 255.45L414.95 252.15" stroke="#1e1e1e" stroke-width="1.15" fill="none"/>
<path d="M415.95 252.15L419.25 255.45M415.95 255.45L419.25 252.15" stroke="#1e1e1e" stroke-width="1.15" fill="none"/>
<path d="M419.35 252.15L422.65 255.45M419.35 255.45L422.65 252.15" stroke="#1e1e1e" stroke-width="1.15" fill="none"/>
<path d="M422.75 252.15L426.05 255.45M422.75 255.45L426.05 252.15" stroke="#1e1e1e" stroke-width="1.15" fill="none"/>
<path d="M407.35 263.55L410.65 266.85M407.35 266.85L410.65 263.55" stroke="#1e1e1e" stroke-width="1.15" fill="none"/>
<line x1="463.20" y1="263.00" x2="506.40" y2="263.00" stroke="#2a2a2a" stroke-width="1.0" />
<line x1="485.30" y1="259.60" x2="485.30" y2="268.50" stroke="#2a2a2a" stroke-width="0.95" />
<line x1="480.40" y1="259.60" x2="490.20" y2="259.60" stroke="#222" stroke-width="1.0" />
<line x1="480.40" y1="268.50" x2="490.20" y2="268.50" stroke="#222" stroke-width="1.0" />
<path d="M485.30 243.60L487.30 245.60L485.30 247.60L483.30 245.60Z" fill="#1e1e1e"/>
<path d="M479.30 253.80L481.30 255.80L479.30 257.80L477.30 255.80Z" fill="#1e1e1e"/>
<path d="M488.20 252.30L490.20 254.30L488.20 256.30L486.20 254.30Z" fill="#1e1e1e"/>
<path d="M470.50 255.70L472.50 257.70L470.50 259.70L468.50 257.70Z" fill="#1e1e1e"/>
<path d="M500.30 257.20L502.30 259.20L500.30 261.20L498.30 259.20Z" fill="#1e1e1e"/>
<path d="M476.50 258.10L478.50 260.10L476.50 262.10L474.50 260.10Z" fill="#1e1e1e"/>
<path d="M482.20 259.00L484.20 261.00L482.20 263.00L480.20 261.00Z" fill="#1e1e1e"/>
<path d="M488.20 260.30L490.20 262.30L488.20 264.30L486.20 262.30Z" fill="#1e1e1e"/>
<path d="M494.30 258.40L496.30 260.40L494.30 262.40L492.30 260.40Z" fill="#1e1e1e"/>
<path d="M465.20 262.20L467.20 264.20L465.20 266.20L463.20 264.20Z" fill="#1e1e1e"/>
<path d="M469.50 263.20L471.50 265.20L469.50 267.20L467.50 265.20Z" fill="#1e1e1e"/>
<path d="M496.60 263.60L498.60 265.60L496.60 267.60L494.60 265.60Z" fill="#1e1e1e"/>
<path d="M500.90 262.80L502.90 264.80L500.90 266.80L498.90 264.80Z" fill="#1e1e1e"/>
<path d="M505.50 261.00L507.50 263.00L505.50 265.00L503.50 263.00Z" fill="#1e1e1e"/>
<path d="M474.10 265.30L476.10 267.30L474.10 269.30L472.10 267.30Z" fill="#1e1e1e"/>
<path d="M478.50 266.40L480.50 268.40L478.50 270.40L476.50 268.40Z" fill="#1e1e1e"/>
<path d="M483.10 266.80L485.10 268.80L483.10 270.80L481.10 268.80Z" fill="#1e1e1e"/>
<path d="M487.60 266.70L489.60 268.70L487.60 270.70L485.60 268.70Z" fill="#1e1e1e"/>
<path d="M492.00 265.90L494.00 267.90L492.00 269.90L490.00 267.90Z" fill="#1e1e1e"/>
<circle cx="158.6" cy="330.2" r="2.8" fill="#1e1e1e"/>
<text x="175.6" y="333.4" font-size="8.6" text-anchor="start" textLength="40.0" lengthAdjust="spacingAndGlyphs" >Initial Flare</text>
<path d="M235.55 328.55L239.25 332.25M235.55 332.25L239.25 328.55" stroke="#1e1e1e" stroke-width="1.35" fill="none"/>
<text x="254.5" y="333.5" font-size="8.6" text-anchor="start" textLength="64.0" lengthAdjust="spacingAndGlyphs" >Subsequent Flare</text>
<path d="M340.50 327.45L343.25 330.20L340.50 332.95L337.75 330.20Z" fill="#1e1e1e"/>
<text x="358.1" y="333.4" font-size="8.6" text-anchor="start" textLength="35.0" lengthAdjust="spacingAndGlyphs" >Remission</text>
<line x1="144.60" y1="347.80" x2="161.90" y2="347.80" stroke="#2a2a2a" stroke-width="1.3" stroke-dasharray="5.9 1.6"/>
<text x="170.8" y="350.8" font-size="8.6" text-anchor="start" textLength="117.2" lengthAdjust="spacingAndGlyphs" >Detection Threshold (viral IL-6)</text>
<line x1="302.60" y1="347.70" x2="319.00" y2="347.70" stroke="#333" stroke-width="1.3" stroke-dasharray="1.2 1.85"/>
<text x="328.7" y="350.9" font-size="8.6" text-anchor="start" textLength="72.0" lengthAdjust="spacingAndGlyphs" >General Population</text>
</svg></div>
</body></html>
